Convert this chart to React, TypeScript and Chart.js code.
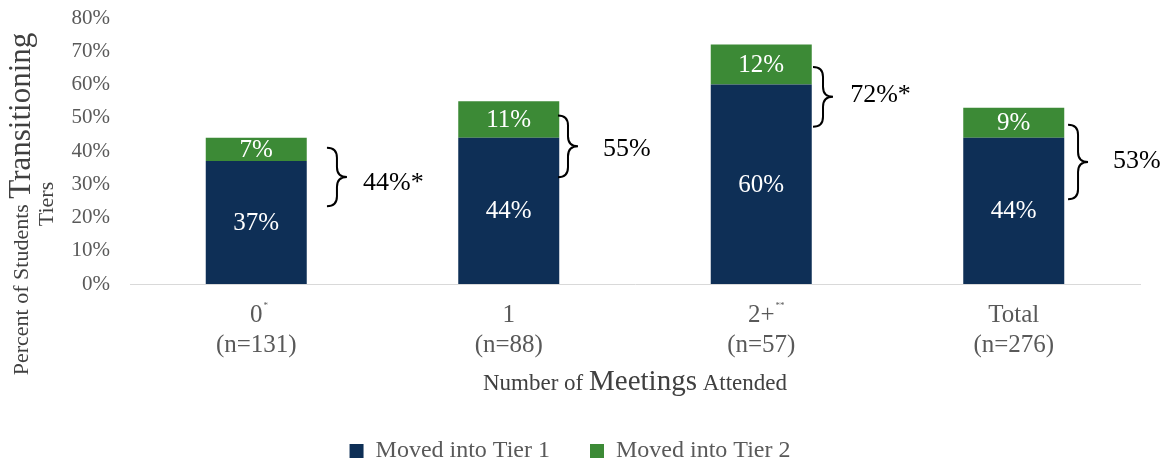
import React, { useEffect, useRef } from "react";
import { Chart, registerables } from "chart.js";

Chart.register(...registerables);

// ---- data ----
const categories = ["0", "1", "2+", "Total"];
const sampleSizes = ["(n=131)", "(n=88)", "(n=57)", "(n=276)"];
const categoryMarks = ["*", "", "**", ""];
const seriesNames = ["Moved into Tier 1", "Moved into Tier 2"];
const tier1 = [37, 44, 60, 44];
const tier2 = [7, 11, 12, 9];
const totalLabels = ["44%*", "55%", "72%*", "53%"];
const yTickValues = [0, 10, 20, 30, 40, 50, 60, 70, 80];

// ---- brace annotation placement (value / category units) ----
const braceTop = [41.0, 50.7, 65.3, 47.9];
const braceBottom = [23.4, 32.1, 47.3, 25.5];
const braceX = [0.28, 1.195, 2.205, 3.215];
const braceLabelX = [0.423, 1.373, 2.352, 3.393];
const braceLabelY = [30.2, 40.4, 56.9, 36.8];

const SERIF = "'Liberation Serif', 'DejaVu Serif', serif";
const NAVY = "#0E2F56";
const GREEN = "#3C8A36";
const X_TICK_PAD = 16;

function drawBrace(ctx: CanvasRenderingContext2D, x: number, yTop: number, yBot: number, w: number) {
  const yMid = (yTop + yBot) / 2;
  const r = w / 2;
  ctx.beginPath();
  ctx.moveTo(x, yTop);
  ctx.quadraticCurveTo(x + r, yTop, x + r, yTop + r);
  ctx.lineTo(x + r, yMid - r);
  ctx.quadraticCurveTo(x + r, yMid, x + w, yMid);
  ctx.quadraticCurveTo(x + r, yMid, x + r, yMid + r);
  ctx.lineTo(x + r, yBot - r);
  ctx.quadraticCurveTo(x + r, yBot, x, yBot);
  ctx.stroke();
}

const annotationPlugin = {
  id: "annotations",
  afterDatasetsDraw(chart: any) {
    const ctx: CanvasRenderingContext2D = chart.ctx;
    const xs = chart.scales.x;
    const ys = chart.scales.y;
    // bar segment labels
    ctx.save();
    ctx.fillStyle = "#ffffff";
    ctx.font = `25px ${SERIF}`;
    ctx.textAlign = "center";
    ctx.textBaseline = "middle";
    chart.data.datasets.forEach((ds: any, di: number) => {
      const meta = chart.getDatasetMeta(di);
      meta.data.forEach((el: any, i: number) => {
        const yMid = (el.y + el.base) / 2;
        ctx.fillText(ds.data[i] + "%", el.x, yMid + 1);
      });
    });
    ctx.restore();

    // braces and totals
    ctx.save();
    ctx.strokeStyle = "#000000";
    ctx.lineWidth = 2;
    ctx.fillStyle = "#000000";
    ctx.font = `26px ${SERIF}`;
    ctx.textAlign = "left";
    ctx.textBaseline = "middle";
    totalLabels.forEach((lab, i) => {
      const x = xs.getPixelForValue(braceX[i]);
      drawBrace(ctx, x, ys.getPixelForValue(braceTop[i]), ys.getPixelForValue(braceBottom[i]), 20);
      ctx.fillText(lab, xs.getPixelForValue(braceLabelX[i]), ys.getPixelForValue(braceLabelY[i]));
    });
    ctx.restore();
  },
  afterDraw(chart: any) {
    const ctx: CanvasRenderingContext2D = chart.ctx;
    const xs = chart.scales.x;
    const area = chart.chartArea;

    // superscript marks on category labels
    ctx.save();
    ctx.font = `25px ${SERIF}`;
    const firstLineY = xs.top + X_TICK_PAD + 15;
    categories.forEach((c, i) => {
      if (!categoryMarks[i]) return;
      const w = ctx.measureText(c).width;
      const px = xs.getPixelForValue(i);
      ctx.save();
      ctx.font = `9px ${SERIF}`;
      ctx.fillStyle = "#595959";
      ctx.textAlign = "left";
      ctx.textBaseline = "middle";
      ctx.fillText(categoryMarks[i], px + w / 2 + 1, firstLineY - 9);
      ctx.restore();
    });
    ctx.restore();

    // x axis title with mixed sizes
    ctx.save();
    ctx.fillStyle = "#404040";
    ctx.textBaseline = "alphabetic";
    ctx.textAlign = "left";
    const parts: [string, number][] = [["Number of ", 23], ["Meetings", 29], [" Attended", 23]];
    let total = 0;
    parts.forEach(([t, s]) => {
      ctx.font = `${s}px ${SERIF}`;
      total += ctx.measureText(t).width;
    });
    let cx = (area.left + area.right) / 2 - total / 2;
    parts.forEach(([t, s]) => {
      ctx.font = `${s}px ${SERIF}`;
      ctx.fillText(t, cx, 390);
      cx += ctx.measureText(t).width;
    });
    ctx.restore();

    // y axis title (rotated, two lines, mixed sizes)
    ctx.save();
    ctx.fillStyle = "#404040";
    ctx.textBaseline = "middle";
    ctx.textAlign = "left";
    ctx.translate(0, 204);
    ctx.rotate(-Math.PI / 2);
    const line1: [string, number][] = [["Percent of Students ", 22], ["Transitioning", 31]];
    let t1 = 0;
    line1.forEach(([t, s]) => {
      ctx.font = `${s}px ${SERIF}`;
      t1 += ctx.measureText(t).width;
    });
    let lx = -t1 / 2;
    line1.forEach(([t, s]) => {
      ctx.font = `${s}px ${SERIF}`;
      ctx.fillText(t, lx, 22);
      lx += ctx.measureText(t).width;
    });
    ctx.font = `22px ${SERIF}`;
    ctx.textAlign = "center";
    ctx.fillText("Tiers", 0, 47);
    ctx.restore();
  },
};

export default function App() {
  const ref = useRef<HTMLCanvasElement | null>(null);
  useEffect(() => {
    document.body.style.margin = "0";
    document.body.style.overflow = "hidden";
    const canvas = ref.current!;
    const chart = new Chart(canvas, {
      type: "bar",
      data: {
        labels: categories.map((c, i) => [c, sampleSizes[i]]),
        datasets: [
          { label: seriesNames[0], data: tier1, backgroundColor: NAVY, barPercentage: 0.4, categoryPercentage: 1 },
          { label: seriesNames[1], data: tier2, backgroundColor: GREEN, barPercentage: 0.4, categoryPercentage: 1 },
        ],
      },
      options: {
        animation: false,
        responsive: false,
        devicePixelRatio: 1,
        layout: { padding: { left: 0, right: 27, top: 18, bottom: -9 } },
        plugins: {
          legend: {
            position: "bottom",
            labels: {
              boxWidth: 14,
              boxHeight: 14,
              padding: 40,
              color: "#595959",
              font: { family: SERIF, size: 24 },
            },
          },
          tooltip: { enabled: false },
        },
        scales: {
          x: {
            stacked: true,
            offset: true,
            grid: { display: false, drawTicks: false },
            border: { display: true, color: "#d9d9d9", width: 1 },
            ticks: {
              color: "#595959",
              font: { family: SERIF, size: 25, lineHeight: 1.2 },
              padding: X_TICK_PAD,
              maxRotation: 0,
              autoSkip: false,
            },
            afterFit: (s: any) => {
              s.height = 115;
            },
          },
          y: {
            stacked: true,
            min: 0,
            max: 80,
            grid: { display: false, drawTicks: false },
            border: { display: false },
            afterBuildTicks: (s: any) => {
              s.ticks = yTickValues.map((v) => ({ value: v }));
            },
            ticks: {
              color: "#595959",
              font: { family: SERIF, size: 21 },
              padding: 20,
              callback: (v: any) => v + "%",
            },
            afterFit: (s: any) => {
              s.width = 130;
              s.paddingTop = 0;
              s.paddingBottom = 0;
            },
          },
        },
      },
      plugins: [annotationPlugin],
    });
    return () => chart.destroy();
  }, []);
  return <canvas ref={ref} width={1167} height={464} style={{ display: "block" }} />;
}
